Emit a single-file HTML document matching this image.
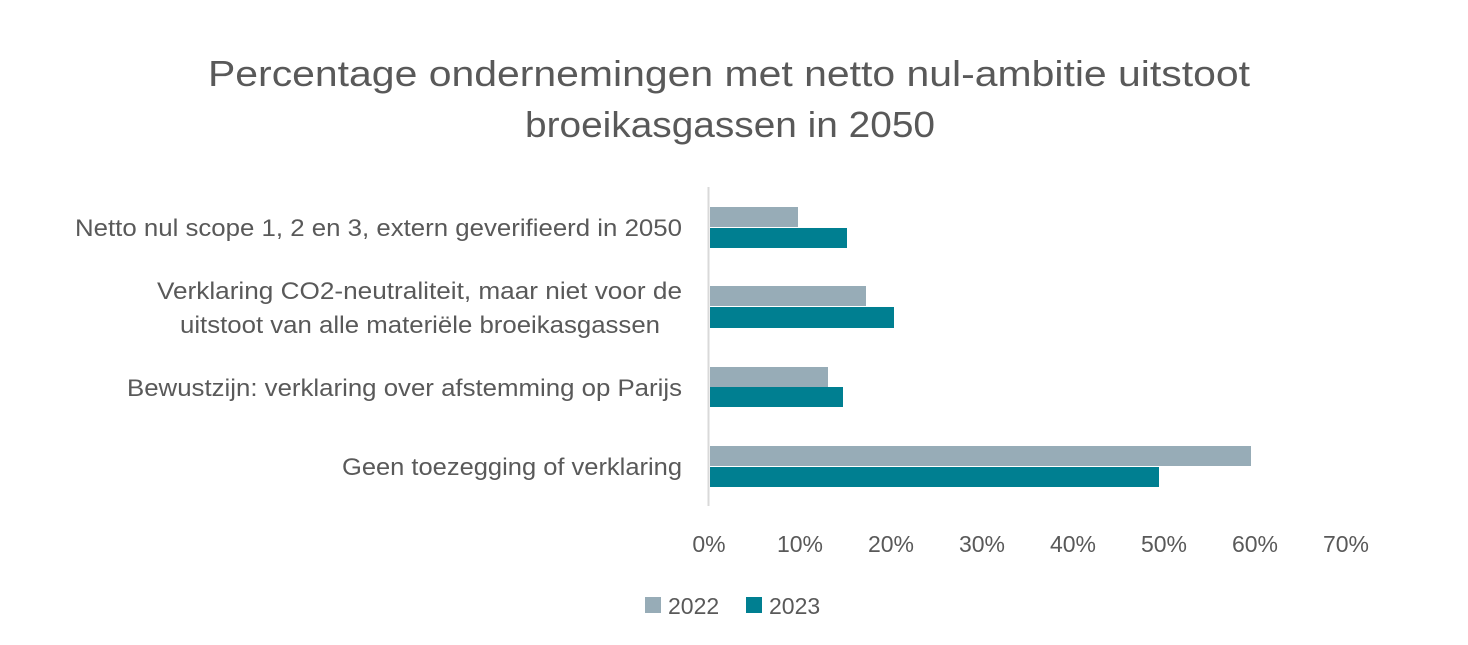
<!DOCTYPE html>
<html><head><meta charset="utf-8"><style>
body{margin:0;background:#fff;}
svg text{font-family:"Liberation Sans",sans-serif;fill:#595959;}
</style></head><body>
<svg width="1468" height="640" xmlns="http://www.w3.org/2000/svg">
<rect width="1468" height="640" fill="#fff"/>
<text x="208" y="86" font-size="36" textLength="1042" lengthAdjust="spacingAndGlyphs">Percentage ondernemingen met netto nul-ambitie uitstoot</text>
<text x="525" y="137" font-size="36" textLength="410" lengthAdjust="spacingAndGlyphs">broeikasgassen in 2050</text>
<line x1="708.5" y1="187" x2="708.5" y2="506" stroke="#d9d9d9" stroke-width="2"/>
<g fill="#97acb7">
<rect x="710" y="207" width="88" height="20"/>
<rect x="710" y="286" width="156" height="20"/>
<rect x="710" y="367" width="118" height="20"/>
<rect x="710" y="446" width="541" height="20"/>
</g>
<g fill="#007f91">
<rect x="710" y="228" width="137" height="20"/>
<rect x="710" y="307" width="184" height="21"/>
<rect x="710" y="387" width="133" height="20"/>
<rect x="710" y="467" width="449" height="20"/>
</g>
<g font-size="24" lengthAdjust="spacingAndGlyphs">
<text x="75" y="236" textLength="607" lengthAdjust="spacingAndGlyphs">Netto nul scope 1, 2 en 3, extern geverifieerd in 2050</text>
<text x="157" y="299" textLength="525" lengthAdjust="spacingAndGlyphs">Verklaring CO2-neutraliteit, maar niet voor de</text>
<text x="180" y="333" textLength="480" lengthAdjust="spacingAndGlyphs">uitstoot van alle materiële broeikasgassen</text>
<text x="127" y="396" textLength="555" lengthAdjust="spacingAndGlyphs">Bewustzijn: verklaring over afstemming op Parijs</text>
<text x="342" y="475" textLength="340" lengthAdjust="spacingAndGlyphs">Geen toezegging of verklaring</text>
</g>
<g font-size="23" text-anchor="middle">
<text x="709" y="552">0%</text>
<text x="800" y="552">10%</text>
<text x="891" y="552">20%</text>
<text x="982" y="552">30%</text>
<text x="1073" y="552">40%</text>
<text x="1164" y="552">50%</text>
<text x="1255" y="552">60%</text>
<text x="1346" y="552">70%</text>
</g>
<rect x="645" y="597" width="16" height="16" fill="#97acb7"/>
<text x="668" y="614" font-size="23">2022</text>
<rect x="746" y="597" width="16" height="16" fill="#007f91"/>
<text x="769" y="614" font-size="23">2023</text>
</svg>
</body></html>
